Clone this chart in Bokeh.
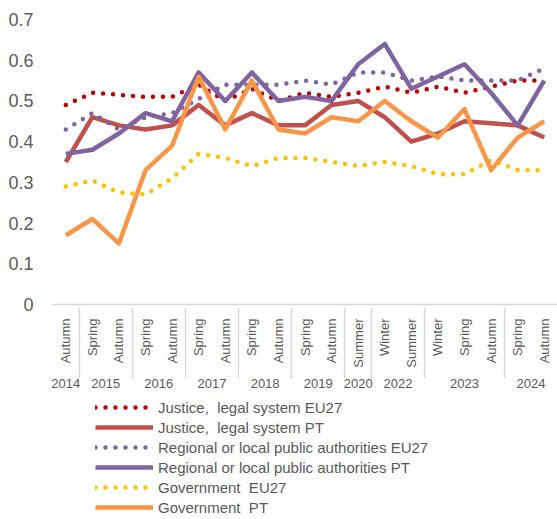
import math
from bokeh.plotting import figure
from bokeh.layouts import column
from bokeh.models import (FactorRange, Range1d, FixedTicker, CustomJSTickFormatter,
                          Legend, LegendItem, ColumnDataSource)
from bokeh.embed import file_html
from bokeh.resources import INLINE

years = ["2014", "2015", "2015", "2016", "2016", "2017", "2017", "2018", "2018",
         "2019", "2019", "2020", "2022", "2022", "2023", "2023", "2023", "2024", "2024"]
seasons = ["Autumn", "Spring", "Autumn", "Spring", "Autumn", "Spring", "Autumn", "Spring", "Autumn",
           "Spring", "Autumn", "Summer", "Winter", "Summer", "Winter", "Spring", "Autumn", "Spring", "Autumn"]

justice_eu27 = [0.49, 0.52, 0.515, 0.51, 0.51, 0.54, 0.50, 0.53, 0.50, 0.52, 0.51, 0.52, 0.535,
                0.52, 0.535, 0.52, 0.535, 0.55, 0.55]
justice_pt = [0.35, 0.46, 0.44, 0.43, 0.44, 0.49, 0.44, 0.47, 0.44, 0.44, 0.49, 0.50, 0.46,
              0.40, 0.42, 0.45, 0.445, 0.44, 0.41]
regional_eu27 = [0.43, 0.47, 0.43, 0.46, 0.47, 0.505, 0.54, 0.54, 0.54, 0.55, 0.54, 0.57, 0.57,
                 0.55, 0.56, 0.55, 0.55, 0.55, 0.58]
regional_pt = [0.37, 0.38, 0.42, 0.47, 0.45, 0.57, 0.50, 0.57, 0.50, 0.51, 0.50, 0.59, 0.64,
               0.53, 0.56, 0.59, 0.52, 0.44, 0.55]
government_eu27 = [0.29, 0.305, 0.275, 0.27, 0.31, 0.37, 0.36, 0.34, 0.36, 0.36, 0.35, 0.34, 0.35,
                   0.34, 0.32, 0.32, 0.355, 0.33, 0.33]
government_pt = [0.17, 0.21, 0.15, 0.33, 0.39, 0.56, 0.43, 0.55, 0.43, 0.42, 0.46, 0.45, 0.50,
                 0.45, 0.41, 0.48, 0.33, 0.41, 0.45]

y_ticks = [0, 0.1, 0.2, 0.3, 0.4, 0.5, 0.6, 0.7]

series = [
    ("Justice,  legal system EU27", justice_eu27, "#C00000", True),
    ("Justice,  legal system PT", justice_pt, "#C0504D", False),
    ("Regional or local public authorities EU27", regional_eu27, "#8064A2", True),
    ("Regional or local public authorities PT", regional_pt, "#8064A2", False),
    ("Government  EU27", government_eu27, "#FFC000", True),
    ("Government  PT", government_pt, "#F79646", False),
]

factors = list(zip(years, seasons))
FONT = "Liberation Sans"
TXT = "#595959"

x_range = FactorRange(*factors, range_padding=0, group_padding=0, factor_padding=0)

p = figure(x_range=x_range, y_range=Range1d(0, 0.7), width=557, height=390,
           output_backend="svg", toolbar_location=None,
           min_border_left=52, min_border_right=0, min_border_top=19, min_border_bottom=0)
p.outline_line_color = None
p.xgrid.visible = False
p.ygrid.visible = False

p.yaxis.ticker = FixedTicker(ticks=y_ticks)
p.yaxis.formatter = CustomJSTickFormatter(code="return String(Math.round(tick*10)/10);")
p.yaxis.axis_line_color = None
p.yaxis.major_tick_line_color = None
p.yaxis.minor_tick_line_color = None
p.yaxis.major_label_text_font = FONT
p.yaxis.major_label_text_font_size = "18px"
p.yaxis.major_label_text_color = TXT
p.yaxis.major_label_standoff = 13

xa = p.xaxis[0]
xa.axis_line_color = "#D9D9D9"
xa.axis_line_width = 1.5
xa.major_tick_line_color = None
xa.major_label_orientation = math.pi / 2
xa.major_label_text_font = FONT
xa.major_label_text_font_size = "13px"
xa.major_label_text_color = TXT
xa.major_label_standoff = 8
xa.group_text_font = FONT
xa.group_text_font_size = "13px"
xa.group_text_color = TXT
xa.group_text_font_style = "normal"
xa.group_label_orientation = "horizontal"
xa.separator_line_color = "#D9D9D9"
xa.separator_line_width = 1.5

# legend lives in a small companion figure below the chart (its lines lie outside its view)
q = figure(x_range=x_range, y_range=Range1d(5, 6), width=557, height=127,
           output_backend="svg", toolbar_location=None,
           x_axis_location=None, y_axis_location=None,
           min_border_left=0, min_border_right=0, min_border_top=0, min_border_bottom=0)
q.grid.visible = False
q.outline_line_color = None

items = []
for label, vals, color, dotted in series:
    src = ColumnDataSource(dict(x=factors, y=vals))
    style = dict(line_color=color, line_width=4.5)
    if dotted:
        style.update(line_dash="0 10", line_cap="round")
    else:
        style.update(line_join="round")
    p.line("x", "y", source=src, **style)
    key = q.line("x", "y", source=src, **style)
    items.append(LegendItem(label=label, renderers=[key]))

legend = Legend(items=items, location=(43, 0), orientation="vertical",
                label_text_font=FONT, label_text_font_size="15px", label_text_color=TXT,
                glyph_width=58, glyph_height=20, label_height=20, spacing=0, padding=0,
                margin=0, border_line_color=None, background_fill_alpha=0, label_standoff=5)
q.add_layout(legend, "center")

layout = column(p, q)
open("out.html", "w").write(file_html(layout, INLINE))
